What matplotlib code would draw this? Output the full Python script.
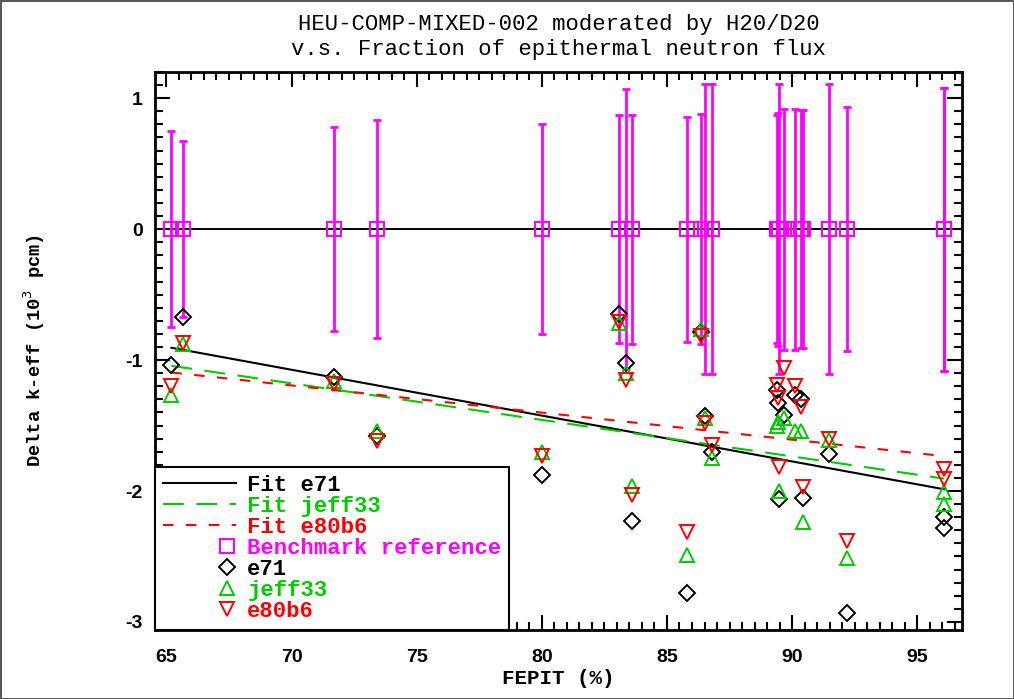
import numpy as np
import matplotlib.pyplot as plt
from matplotlib.lines import Line2D
from matplotlib.legend_handler import HandlerLine2D

plt.rcParams['axes.unicode_minus'] = False

# FEPIT (%) of each benchmark configuration
fepit = [65.2, 65.65, 71.7, 73.4, 80.0, 83.1, 83.36, 83.6, 85.8, 86.36, 86.53, 86.8,
         89.40, 89.43, 89.46, 89.66, 90.13, 90.35, 90.45, 91.47, 92.2, 96.05, 96.08]
# benchmark uncertainty (10^3 pcm)
bench_err = [0.75, 0.67, 0.78, 0.83, 0.80, 0.87, 1.07, 0.875, 0.86, 0.88, 1.11, 1.11,
             0.87, 0.89, 1.11, 0.92, 0.92, 0.91, 0.91, 1.11, 0.93, 1.08, 1.08]
# delta k-eff (10^3 pcm)
e71 = [-1.04, -0.67, -1.13, -1.58, -1.88, -0.65, -1.02, -2.23, -2.78, -0.785, -1.43, -1.70,
       -1.23, -1.33, -2.06, -1.42, -1.27, -1.30, -2.05, -1.72, -2.93, -2.20, -2.28]
jeff33 = [-1.27, -0.88, -1.16, -1.54, -1.70, -0.72, -1.10, -1.96, -2.49, -0.76, -1.44, -1.75,
          -1.50, -1.47, -2.00, -1.44, -1.54, -1.54, -2.24, -1.61, -2.51, -2.01, -2.10]
e80b6 = [-1.20, -0.87, -1.18, -1.62, -1.73, -0.71, -1.15, -2.03, -2.31, -0.82, -1.48, -1.645,
         -1.19, -1.29, -1.82, -1.06, -1.20, -1.355, -1.97, -1.60, -2.38, -1.835, -1.91]
# linear fits: (intercept, slope)
fit_e71 = (1.376, -0.0350)
fit_jeff33 = (0.775, -0.0279)
fit_e80b6 = (0.255, -0.0207)

MAG = '#ff00ff'
GRN = '#00cc00'
RED = '#ff0000'


class HandlerRightMarker(HandlerLine2D):
    # single legend marker sits near the right end of the handle
    def get_xdata(self, legend, xdescent, ydescent, width, height, fontsize):
        xdata = [-xdescent + 0.76 * width, -xdescent + width]
        return xdata, xdata


fig = plt.figure(figsize=(10.14, 6.99), dpi=100, linewidth=2, edgecolor='0.35')
ax = fig.add_axes([0.153, 0.099, 0.796, 0.798])

x = np.array(fepit)
zero = np.zeros_like(x)

ax.axhline(0, color='black', lw=1.4, zorder=2)
ax.errorbar(x, zero, yerr=bench_err, fmt='none', ecolor=MAG, elinewidth=2,
            capsize=3, capthick=2, zorder=3)
ax.plot(x, zero, 's', ms=10, mfc='none', mec=MAG, mew=1.5, zorder=4)

xf = np.array([x.min(), x.max()])
ax.plot(xf, fit_e71[0] + fit_e71[1] * xf, '-', color='black', lw=1.5, zorder=5)
ax.plot(xf, fit_jeff33[0] + fit_jeff33[1] * xf, color=GRN, lw=1.5,
        dashes=(10, 6), zorder=5)
ax.plot(xf, fit_e80b6[0] + fit_e80b6[1] * xf, color=RED, lw=1.5,
        dashes=(5, 6), zorder=5)

ax.plot(x, e71, 'D', ms=8, mfc='none', mec='black', mew=1.4, zorder=6)
ax.plot(x, jeff33, '^', ms=10, mfc='none', mec=GRN, mew=1.4, zorder=6)
ax.plot(x, e80b6, 'v', ms=10, mfc='none', mec=RED, mew=1.4, zorder=6)

ax.set_xlim(64.55, 96.8)
ax.set_ylim(-3.06, 1.2)
ax.set_xticks([65, 70, 75, 80, 85, 90, 95])
ax.set_xticks(np.arange(65, 96.9, 0.5), minor=True)
ax.set_yticks([-3, -2, -1, 0, 1])
ax.set_yticks(np.arange(-3, 1.21, 0.1), minor=True)
ax.tick_params(which='both', direction='in', top=True, right=True, width=1.5)
ax.tick_params(which='major', length=11)
ax.tick_params(which='minor', length=6)
ax.tick_params(axis='x', which='major', pad=14)
ax.tick_params(axis='y', which='major', pad=9)
for lab in ax.get_xticklabels() + ax.get_yticklabels():
    lab.set_fontfamily('Liberation Sans')
    lab.set_fontweight('bold')
    lab.set_fontsize(14)
for sp in ax.spines.values():
    sp.set_linewidth(2)

ax.set_xlabel('FEPIT (%)', family='Liberation Mono', weight='bold', fontsize=15, labelpad=2)
ax.set_ylabel('Delta k-eff (10$^3$ pcm)', family='Liberation Mono', weight='bold',
              fontsize=13.5, labelpad=56)
ax.set_title('HEU-COMP-MIXED-002 moderated by H20/D20\n'
             'v.s. Fraction of epithermal neutron flux',
             family='Liberation Mono', fontsize=16, linespacing=1.25, pad=12)

fit_handles = [
    Line2D([], [], color='black', lw=1.5),
    Line2D([], [], color=GRN, lw=1.5, dashes=(10, 6)),
    Line2D([], [], color=RED, lw=1.5, dashes=(5, 6)),
]
mark_handles = [
    Line2D([], [], marker='s', ls='none', ms=10, mfc='none', mec=MAG, mew=1.5),
    Line2D([], [], marker='D', ls='none', ms=8, mfc='none', mec='black', mew=1.4),
    Line2D([], [], marker='^', ls='none', ms=10, mfc='none', mec=GRN, mew=1.4),
    Line2D([], [], marker='v', ls='none', ms=10, mfc='none', mec=RED, mew=1.4),
]
labels = ['Fit e71', 'Fit jeff33', 'Fit e80b6', 'Benchmark reference', 'e71', 'jeff33', 'e80b6']
label_colors = ['black', GRN, RED, MAG, 'black', GRN, RED]
hmap = {h: HandlerRightMarker(numpoints=1) for h in mark_handles}
leg = ax.legend(fit_handles + mark_handles, labels, loc='lower left', bbox_to_anchor=(0, 0),
                handler_map=hmap,
                prop={'family': 'Liberation Mono', 'weight': 'bold', 'size': 16},
                handlelength=3.3, handletextpad=0.5, labelspacing=0.0,
                borderaxespad=0, borderpad=0.35, fancybox=False, framealpha=1,
                edgecolor='black')
leg.get_frame().set_linewidth(1.5)
for t, c in zip(leg.get_texts(), label_colors):
    t.set_color(c)

fig.savefig('out.png', dpi=100)
